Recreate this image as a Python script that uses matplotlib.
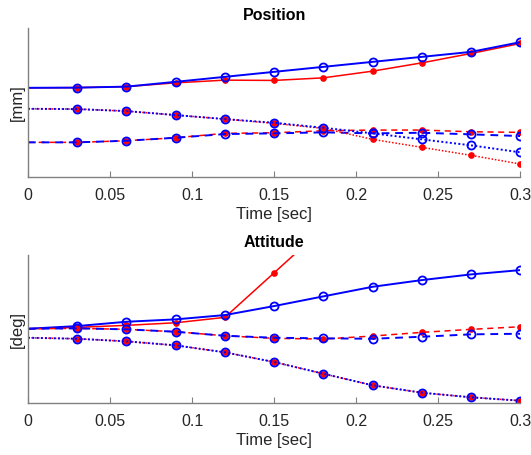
import matplotlib.pyplot as plt
import numpy as np

# time samples (sec)
t = [0, 0.03, 0.06, 0.09, 0.12, 0.15, 0.18, 0.21, 0.24, 0.27, 0.3]
nan = np.nan

# Position [mm] (arbitrary offset)
pos_solid_ref = [89.3, 89.5, 90.5, 95.3, 100.3, 105.3, 110.3, 115.3, 120.3, 125.3, 135.0]
pos_solid_sim = [89.3, 89.5, 90.5, 94.3, 97.0, 96.7, 99.3, 106.0, 114.3, 123.7, 133.7]
pos_dot_ref = [68.3, 68.0, 66.0, 62.0, 58.0, 54.3, 49.3, 43.7, 37.7, 31.7, 24.7]
pos_dot_sim = [68.3, 68.0, 66.0, 62.0, 58.0, 53.7, 48.7, 37.7, 29.7, 21.7, 13.0]
pos_dash_ref = [34.7, 34.7, 36.3, 39.3, 43.0, 43.7, 44.7, 43.7, 44.3, 42.7, 41.0]
pos_dash_sim = [34.7, 34.7, 36.3, 39.3, 43.7, 44.3, 46.3, 47.0, 47.0, 45.3, 44.7]

# Attitude [deg]
att_solid_ref = [74.3, 77.0, 81.3, 83.7, 88.0, 97.0, 106.7, 116.3, 123.0, 128.7, 133.0]
att_solid_sim = [74.3, 75.7, 77.7, 80.3, 85.7, 130.3, 175.0, nan, nan, nan, nan]
att_dash_ref = [74.3, 74.7, 73.7, 71.3, 67.3, 65.3, 64.7, 64.3, 66.3, 68.7, 69.3]
att_dash_sim = [74.3, 74.7, 73.7, 71.3, 67.3, 64.7, 64.0, 67.0, 70.7, 73.7, 76.3]
att_dot_ref = [65.3, 64.3, 61.7, 57.7, 50.7, 41.0, 29.3, 17.7, 10.3, 5.7, 2.3]
att_dot_sim = [65.3, 64.3, 61.7, 57.7, 50.7, 41.0, 29.3, 17.7, 10.3, 5.7, 2.3]

plt.rcParams['font.family'] = ['Liberation Sans', 'DejaVu Sans']

fig = plt.figure(figsize=(5.31, 4.55), dpi=100)
ax1 = fig.add_axes([0.0527, 0.611, 0.927, 0.327])
ax2 = fig.add_axes([0.0527, 0.1143, 0.927, 0.325])


def draw(ax, sim, ref, title, ylabel, ymax):
    styles = ['-', (0, (4, 3)), (0, (1, 1.2))]
    marks = list(range(1, len(t)))
    for s, r, ls in zip(sim, ref, styles):
        ax.plot(t, s, color='red', ls=ls, lw=1.1, marker='o', ms=3.8,
                markevery=marks)
        ax.plot(t, r, color='blue', ls=ls, lw=1.4, marker='o', ms=5.8,
                mfc='none', mew=1.3, markevery=marks)
    ax.set_xlim(0, 0.3)
    ax.set_ylim(0, ymax)
    ax.set_xticks([0, 0.05, 0.1, 0.15, 0.2, 0.25, 0.3])
    ax.set_xticklabels(['0', '0.05', '0.1', '0.15', '0.2', '0.25', '0.3'])
    ax.set_yticks([])
    ax.tick_params(axis='x', direction='in', length=4, labelsize=11.5,
                   colors='#262626', pad=8)
    ax.tick_params(axis='x', colors='#808080', labelcolor='#262626')
    for side in ['top', 'right']:
        ax.spines[side].set_visible(False)
    for side in ['left', 'bottom']:
        ax.spines[side].set_color('#808080')
        ax.spines[side].set_linewidth(1.0)
    ax.set_title(title, fontsize=11.5, fontweight='bold', pad=6)
    ax.set_ylabel(ylabel, fontsize=12, color='#262626', labelpad=2)
    ax.set_xlabel('Time [sec]', fontsize=12, color='#262626', labelpad=3)


draw(ax1, [pos_solid_sim, pos_dash_sim, pos_dot_sim],
     [pos_solid_ref, pos_dash_ref, pos_dot_ref], 'Position', '[mm]', 149)
draw(ax2, [att_solid_sim, att_dash_sim, att_dot_sim],
     [att_solid_ref, att_dash_ref, att_dot_ref], 'Attitude', '[deg]', 148)

fig.savefig('out.png', dpi=100)
